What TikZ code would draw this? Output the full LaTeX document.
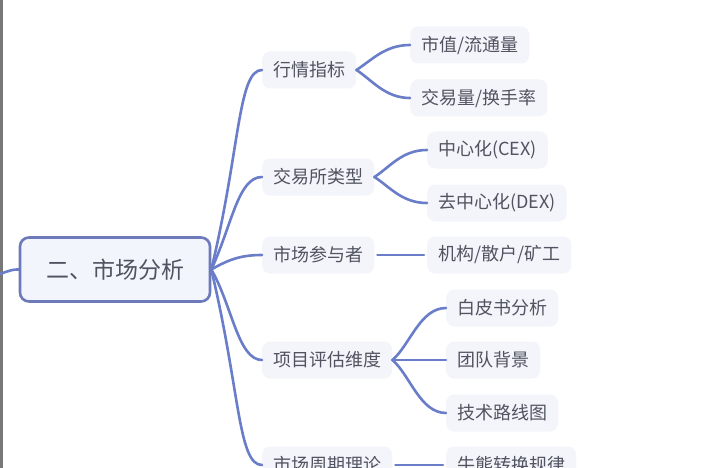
\documentclass[tikz,border=0pt]{standalone}
\usepackage{fontspec}
\setmainfont{Noto Sans CJK SC}
\begin{document}
\begin{tikzpicture}[x=1pt,y=-1pt]
\definecolor{linec}{RGB}{106,125,201}
\definecolor{mainbd}{RGB}{108,122,186}
\definecolor{mainfill}{RGB}{243,245,252}
\definecolor{subfill}{RGB}{244,245,250}
\definecolor{txt}{RGB}{80,84,96}
\definecolor{edgegray}{RGB}{120,120,120}
\tikzset{
  conn/.style={draw=linec, line width=2.6pt, line cap=round},
  mainbox/.style={draw=mainbd, line width=2.6pt, fill=mainfill, rounded corners=9pt,
    minimum width=190pt, minimum height=64pt, text=txt, font=\fontsize{23}{23}\selectfont},
  topic/.style={fill=subfill, rounded corners=8pt, minimum height=37pt, inner xsep=11pt,
    text=txt, font=\fontsize{18}{18}\selectfont, anchor=west},
}
\useasboundingbox (0,0) rectangle (720,468);
\fill[white] (0,0) rectangle (720,468);
\begin{scope}
\clip (0,0) rectangle (720,468);
\fill[edgegray] (0,0) rectangle (3,468);

\node[mainbox] (main) at (115,269.5) {二、市场分析};
\coordinate (inL) at (0,274);

% level 1
\node[topic] (a) at (262,70) {行情指标};
\node[topic] (b) at (262,177) {交易所类型};
\node[topic] (c) at (262,255) {市场参与者};
\node[topic] (d) at (262,360) {项目评估维度};
\node[topic] (e) at (262,465) {市场周期理论};

% level 2
\node[topic] (a1) at (410,45) {市值/流通量};
\node[topic] (a2) at (410,98) {交易量/换手率};
\node[topic] (b1) at (427,150) {中心化(CEX)};
\node[topic] (b2) at (427,203) {去中心化(DEX)};
\node[topic] (c1) at (427,255) {机构/散户/矿工};
\node[topic] (d1) at (446,308) {白皮书分析};
\node[topic] (d2) at (446,360) {团队背景};
\node[topic] (d3) at (446,413) {技术路线图};
\node[topic] (e1) at (446,465) {牛熊转换规律};

% connectors
\draw[conn] (inL) .. controls (8,271) and (14,269) .. (main.west);
\draw[conn] (main.east) .. controls (240,150) and (238,70) .. (a.west);
\draw[conn] (main.east) .. controls (232,225) and (238,177) .. (b.west);
\draw[conn] (main.east) .. controls (228,260) and (240,255) .. (c.west);
\draw[conn] (main.east) .. controls (232,305) and (238,360) .. (d.west);
\draw[conn] (main.east) .. controls (240,390) and (238,465) .. (e.west);

\draw[conn] (a.east) .. controls (372,60) and (385,45) .. (a1.west);
\draw[conn] (a.east) .. controls (372,80) and (385,98) .. (a2.west);
\draw[conn] (b.east) .. controls (390,167) and (402,150) .. (b1.west);
\draw[conn] (b.east) .. controls (390,187) and (402,203) .. (b2.west);
\draw[conn] ([xshift=3pt]c.east) -- ([xshift=-3pt]c1.west);
\draw[conn] (d.east) .. controls (410,345) and (420,308) .. (d1.west);
\draw[conn] (d.east) -- (d2.west);
\draw[conn] (d.east) .. controls (410,375) and (420,413) .. (d3.west);
\draw[conn] ([xshift=3pt]e.east) -- ([xshift=-3pt]e1.west);
\end{scope}
\end{tikzpicture}
\end{document}
